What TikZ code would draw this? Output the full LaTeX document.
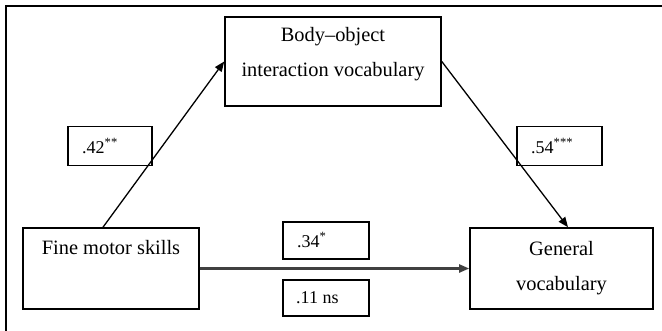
\documentclass[tikz,border=0pt]{standalone}
\usepackage{fontspec}
\setmainfont{Liberation Serif}
\usetikzlibrary{arrows.meta}
\begin{document}
\begin{tikzpicture}[x=1pt,y=-1pt,
  box/.style={draw,line width=1.6pt,inner sep=0pt,minimum width=#1},
  bodytext/.style={inner sep=0pt,font=\fontsize{20.4}{24}\selectfont},
  labtext/.style={inner sep=0pt,anchor=west,font=\fontsize{18}{22}\selectfont},
  arr/.style={-{Triangle[length=10pt,width=8pt]},line width=1.3pt},
  harr/.style={-{Triangle[length=10pt,width=8pt]},line width=2.2pt,draw=black!75,fill=black!75}]
\useasboundingbox (0,0) rectangle (662,330);
\fill[white] (0,0) rectangle (662,330);
\draw[line width=2.4pt] (6,331) -- (6,6) -- (663,6);
% main boxes
\node[box=216pt,minimum height=89pt] (obj) at (333,61.5) {};
\node[box=176pt,minimum height=81pt] (fine) at (111,268.5) {};
\node[box=183pt,minimum height=81pt] (gen) at (561.5,268.5) {};
\node[bodytext] (t1) at (333,37) {Body–object};
\node[bodytext] (t2) at (333,72) {interaction vocabulary};
\node[bodytext] (t3) at (111,248) {Fine motor skills};
\node[bodytext] (t4) at (561.5,249) {General};
\node[bodytext] (t5) at (561.5,286) {vocabulary};
% label boxes
\node[box=84pt,minimum height=39pt] (l42) at (110,146) {};
\node[box=85pt,minimum height=39pt] (l54) at (559.5,146) {};
\node[box=86pt,minimum height=37pt] (l34) at (326,240.5) {};
\node[box=86pt,minimum height=36pt] (l11) at (326,298) {};
\node[labtext] (v42) at (82,146) {.42\textsuperscript{**}};
\node[labtext] (v54) at (531,146) {.54\textsuperscript{***}};
\node[labtext] (v34) at (297,240) {.34\textsuperscript{*}};
\node[labtext] (v11) at (296,298) {.11 ns};
% connectors
\draw[arr] ([xshift=-8pt]fine.north) -- (obj.west);
\draw[arr] (obj.east) -- ([xshift=6.5pt]gen.north);
\draw[harr] (fine.east) -- (gen.west);
\end{tikzpicture}
\end{document}
